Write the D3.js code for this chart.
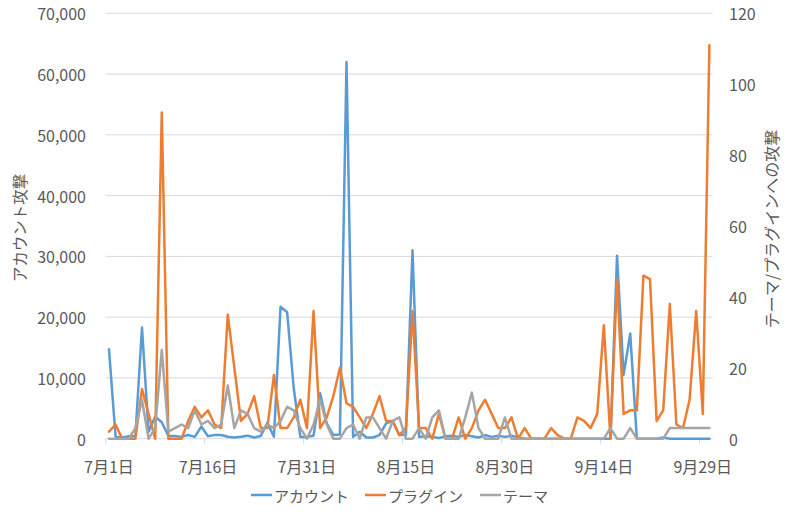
<!DOCTYPE html>
<html>
<head>
<meta charset="utf-8">
<script src="https://cdn.jsdelivr.net/npm/d3@7"></script>
<style>
  html, body { margin: 0; padding: 0; background: #fff; }
  svg { display: block; }
  text { font-family: "Noto Sans CJK JP", "Noto Sans", sans-serif; fill: #595959; }
</style>
</head>
<body>
<svg id="chart" width="791" height="518"></svg>
<script>
// ---- data ----
const startDate = new Date(2017, 6, 1);   // 7月1日
const endDate   = new Date(2017, 9, 1);   // exclusive (9月30日 last)
const days = d3.timeDay.range(startDate, endDate);   // 92 days

const seriesNames = ["アカウント", "プラグイン", "テーマ"];
const seriesColors = ["#5B9BD5", "#ED7D31", "#A5A5A5"];

// account attacks (left axis)
const account = [
  14700, 300, 200, 400, 400, 18300, 1150, 3600, 2700, 450,
  450, 300, 600, 300, 2000, 400, 600, 600, 330, 200,
  330, 500, 200, 440, 2600, 330, 21700, 20800, 8300, 300,
  300, 500, 7470, 2530, 600, 700, 62000, 300, 1150, 200,
  200, 600, 2530, 2900, 600, 600, 31000, 300, 400, 300,
  100, 400, 500, 300, 600, 400, 200, 600, 300, 500,
  300, 500, 200, 0, 0, 0, 0, 0, 0, 0,
  0, 0, 0, 0, 0, 0, 0, 30100, 10500, 17300,
  0, 0, 0, 0, 200, 0, 0, 0, 0, 0,
  0, 0
];
// plugin attacks (right axis)
const plugin = [
  2, 4, 0, 0, 0, 14, 7, 0, 92, 0,
  0, 0, 5, 9, 6, 8, 4, 3, 35, 20,
  5, 7, 12, 3, 3, 18, 3, 3, 6, 11,
  3, 36, 3, 6, 12, 20, 10, 9, 6, 3,
  7, 12, 5, 5, 1, 3, 36, 3, 3, 0,
  7, 0, 0, 6, 0, 3, 8, 11, 7, 3,
  3, 6, 0, 3, 0, 0, 0, 3, 1, 0,
  0, 6, 5, 3, 7, 32, 0, 45, 7, 8,
  8, 46, 45, 5, 8, 38, 4, 3, 11, 36,
  7, 111
];
// theme attacks (right axis)
const theme = [
  0, 0, 0, 0, 3, 11, 0, 3, 25, 2,
  3, 4, 3, 8, 4, 5, 3, 4, 15, 3,
  8, 7, 3, 2, 4, 3, 5, 9, 8, 3,
  0, 4, 11, 4, 0, 0, 3, 4, 0, 6,
  6, 3, 0, 5, 6, 0, 0, 3, 0, 6,
  8, 0, 0, 0, 6, 13, 3, 0, 0, 0,
  6, 0, 0, 0, 0, 0, 0, 0, 0, 0,
  0, 0, 0, 0, 0, 0, 3, 0, 0, 3,
  0, 0, 0, 0, 0, 3, 3, 3, 3, 3,
  3, 3
];

const leftTicks = [0, 10000, 20000, 30000, 40000, 50000, 60000, 70000];
const rightTicks = [0, 20, 40, 60, 80, 100, 120];
const leftTitle = "アカウント攻撃";
const rightTitle = "テーマ/プラグインへの攻撃";

// ---- layout ----
const svg = d3.select("#chart");
const plot = { left: 105.7, right: 712.7, top: 13.3, bottom: 438.7 };
const grid = "#D9D9D9";
const tickFont = "16px";

const x = d3.scaleBand().domain(days).range([plot.left, plot.right]).padding(0);
const yL = d3.scaleLinear().domain([0, 70000]).range([plot.bottom, plot.top]);
const yR = d3.scaleLinear().domain([0, 120]).range([plot.bottom, plot.top]);
const cx = d => x(d) + x.bandwidth() / 2;

// gridlines
svg.append("g").selectAll("line").data(leftTicks.slice(1)).join("line")
  .attr("x1", plot.left).attr("x2", plot.right)
  .attr("y1", d => yL(d)).attr("y2", d => yL(d))
  .attr("stroke", grid).attr("stroke-width", 1);

// left axis labels
svg.append("g").selectAll("text").data(leftTicks).join("text")
  .attr("x", 86).attr("y", d => yL(d))
  .attr("text-anchor", "end").attr("dominant-baseline", "central")
  .style("font-size", tickFont)
  .text(d3.format(","));

// right axis labels
svg.append("g").selectAll("text").data(rightTicks).join("text")
  .attr("x", 729).attr("y", d => yR(d))
  .attr("text-anchor", "start").attr("dominant-baseline", "central")
  .style("font-size", tickFont)
  .text(d => d);

// x axis line + ticks
svg.append("line")
  .attr("x1", plot.left).attr("x2", plot.right)
  .attr("y1", plot.bottom).attr("y2", plot.bottom)
  .attr("stroke", grid).attr("stroke-width", 1);

const tickDays = days.filter((d, i) => i % 15 === 0);
svg.append("g").selectAll("line").data(tickDays).join("line")
  .attr("x1", d => x(d)).attr("x2", d => x(d))
  .attr("y1", plot.bottom).attr("y2", plot.bottom + 5)
  .attr("stroke", grid).attr("stroke-width", 1);

svg.append("g").selectAll("text").data(tickDays).join("text")
  .attr("x", d => cx(d)).attr("y", 466)
  .attr("text-anchor", "middle").attr("dominant-baseline", "central")
  .style("font-size", tickFont)
  .text(d => `${d.getMonth() + 1}月${d.getDate()}日`);

// axis titles
svg.append("text")
  .attr("transform", `translate(19,${(plot.top + plot.bottom) / 2 + 2}) rotate(-90)`)
  .attr("text-anchor", "middle").attr("dominant-baseline", "central")
  .style("font-size", "15.5px")
  .text(leftTitle);
svg.append("text")
  .attr("transform", `translate(771,${(plot.top + plot.bottom) / 2 + 3}) rotate(-90)`)
  .attr("text-anchor", "middle").attr("dominant-baseline", "central")
  .style("font-size", "16px")
  .text(rightTitle);

// lines
const lineL = d3.line().x((v, i) => cx(days[i])).y(v => yL(v));
const lineR = d3.line().x((v, i) => cx(days[i])).y(v => yR(v));

const seriesData = [
  { values: account, gen: lineL, color: seriesColors[0] },
  { values: plugin, gen: lineR, color: seriesColors[1] },
  { values: theme, gen: lineR, color: seriesColors[2] }
];
svg.append("g").selectAll("path").data(seriesData).join("path")
  .attr("d", s => s.gen(s.values))
  .attr("fill", "none")
  .attr("stroke", s => s.color)
  .attr("stroke-width", 2.5)
  .attr("stroke-linejoin", "round")
  .attr("stroke-linecap", "round");

// legend
const legendItems = [
  { name: seriesNames[0], color: seriesColors[0], x: 251 },
  { name: seriesNames[1], color: seriesColors[1], x: 365 },
  { name: seriesNames[2], color: seriesColors[2], x: 480 }
];
const lg = svg.append("g").selectAll("g").data(legendItems).join("g")
  .attr("transform", d => `translate(${d.x},495)`);
lg.append("line").attr("x1", 0).attr("x2", 21).attr("y1", 0).attr("y2", 0)
  .attr("stroke", d => d.color).attr("stroke-width", 2.5);
lg.append("text").attr("x", 23).attr("y", 0)
  .attr("dominant-baseline", "central")
  .style("font-size", "15px")
  .text(d => d.name);
</script>
</body>
</html>
